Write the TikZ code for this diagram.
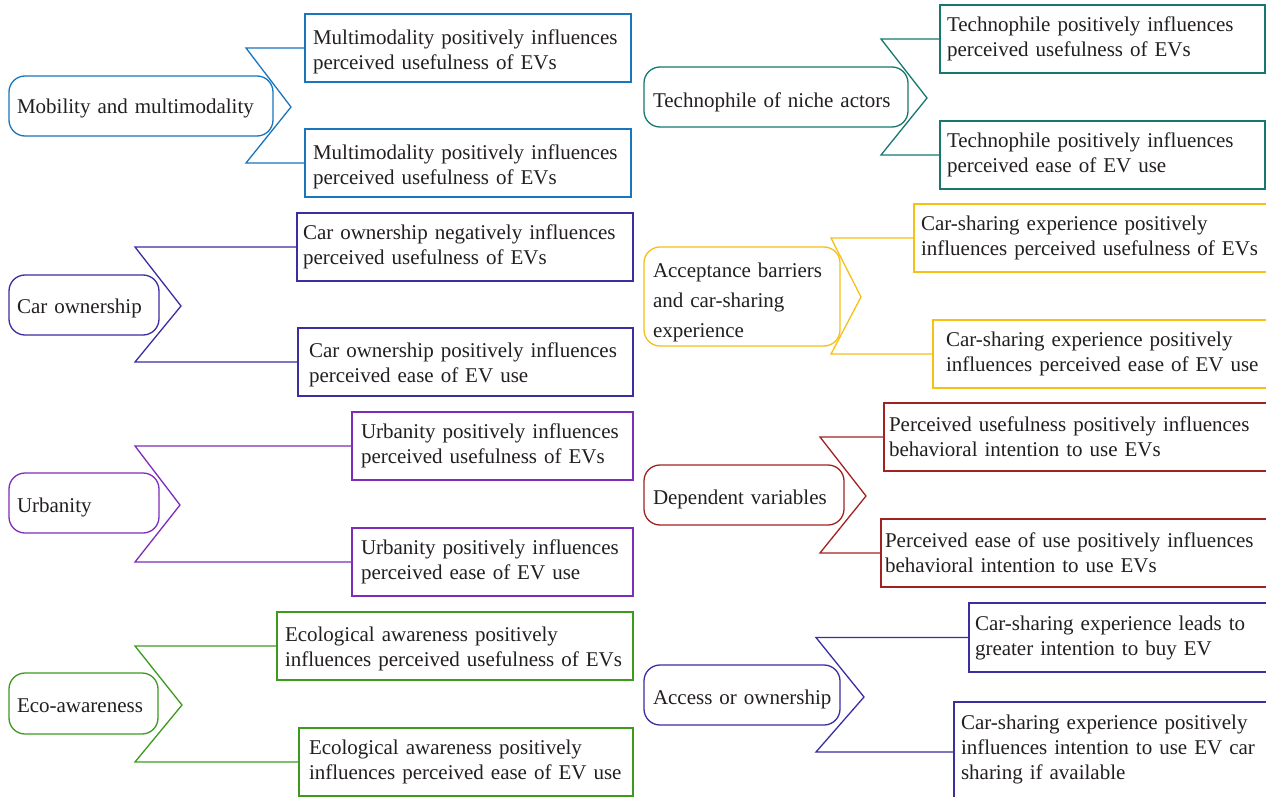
\documentclass[tikz,border=0pt]{standalone}
\usepackage{fontspec}
\setmainfont{Liberation Serif}

\definecolor{ink}{RGB}{35,31,32}
\definecolor{cblue}{RGB}{26,118,188}
\definecolor{cteal}{RGB}{24,120,112}
\definecolor{cindigo}{RGB}{58,46,160}
\definecolor{cpurple}{RGB}{125,45,185}
\definecolor{cyellow}{RGB}{247,192,20}
\definecolor{cred}{RGB}{160,35,35}
\definecolor{cgreen}{RGB}{60,155,30}

\tikzset{
  every node/.style={font=\fontsize{21}{25}\selectfont, text=ink},
  gbox/.style={draw=#1, line width=1.3pt, rounded corners=16pt, align=left, outer sep=0pt},
  tbox/.style={draw=#1, line width=1.3pt, align=left, outer sep=0pt},
  chev/.style={draw=#1, line width=1.3pt, line join=miter},
}

% invisible rules that set the height of a first line / depth of a last line
\newcommand\topline[1]{\rule{0pt}{#1pt}}
\newcommand\lastline[1]{\rule[-#1pt]{0pt}{0pt}}

% #1 style, #2 name, #3/#4 top-left corner, #5/#6 bottom-right corner, #7 left padding, #8 text
\newcommand\putbox[8]{%
  \pgfmathsetmacro\bw{#5-#3}%
  \pgfmathsetmacro\bh{#6-#4}%
  \pgfmathsetmacro\tw{#5-#3-2*#7}%
  \node[#1, anchor=north west, minimum width=\bw pt, minimum height=\bh pt,
        inner xsep=#7pt, text width=\tw pt] (#2) at (#3,#4) {#8};%
}

\begin{document}
\begin{tikzpicture}[x=1pt, y=-1pt]
\useasboundingbox (0,0) rectangle (1266,797);
\fill[white] (0,0) rectangle (1266,797);
\clip (0,0) rectangle (1266,797);

% ---------- Mobility and multimodality ----------
\putbox{gbox=cblue}{m1}{9}{76}{273}{136}{8}{\topline{20.5}\mbox{Mobility and multimodality}}
\putbox{tbox=cblue}{a1}{305}{14}{631}{82}{8}{\topline{22.5}Multimodality positively influences\\perceived usefulness of EVs}
\putbox{tbox=cblue}{b1}{305}{129}{631}{197}{8}{\topline{22.5}Multimodality positively influences\\perceived usefulness of EVs}
\coordinate (c1) at (246,0);
\coordinate (t1) at (291,107);
\draw[chev=cblue] (a1.west) -- (a1.west -| c1) -- (t1) -- (b1.west -| c1) -- (b1.west);

% ---------- Car ownership ----------
\putbox{gbox=cindigo}{m2}{9}{275}{159}{335}{8}{\topline{20.5}\mbox{Car ownership}}
\putbox{tbox=cindigo}{a2}{297}{213}{633}{281}{6}{Car ownership negatively influences\\perceived usefulness of EVs}
\putbox{tbox=cindigo}{b2}{298}{328}{633}{396}{11}{\topline{20.5}Car ownership positively influences\\perceived ease of EV use}
\coordinate (c2) at (135,0);
\coordinate (t2) at (181,306);
\draw[chev=cindigo] (a2.west) -- (a2.west -| c2) -- (t2) -- (b2.west -| c2) -- (b2.west);

% ---------- Urbanity ----------
\putbox{gbox=cpurple}{m3}{9}{473}{159}{533}{8}{\topline{24.5}Urbanity}
\putbox{tbox=cpurple}{a3}{352}{412}{633}{480}{9}{Urbanity positively influences\\perceived usefulness of EVs}
\putbox{tbox=cpurple}{b3}{352}{528}{633}{596}{9}{Urbanity positively influences\\perceived ease of EV use}
\coordinate (c3) at (135,0);
\coordinate (t3) at (180,505);
\draw[chev=cpurple] (a3.west) -- (a3.west -| c3) -- (t3) -- (b3.west -| c3) -- (b3.west);

% ---------- Eco-awareness ----------
\putbox{gbox=cgreen}{m4}{9}{673}{158}{734}{8}{\topline{18.5}\mbox{Eco-awareness}}
\putbox{tbox=cgreen}{a4}{277}{612}{633}{680}{8}{\topline{20.5}Ecological awareness positively\\influences perceived usefulness of EVs}
\putbox{tbox=cgreen}{b4}{299}{728}{633}{796}{10}{Ecological awareness positively\\influences perceived ease of EV use}
\coordinate (c4) at (135,0);
\coordinate (t4) at (182,705);
\draw[chev=cgreen] (a4.west) -- (a4.west -| c4) -- (t4) -- (b4.west -| c4) -- (b4.west);

% ---------- Technophile of niche actors ----------
\putbox{gbox=cteal}{m5}{644}{67}{908}{127}{9}{\topline{24.5}\mbox{Technophile of niche actors}}
\putbox{tbox=cteal}{a5}{940}{5}{1265}{73}{7}{Technophile positively influences\\perceived usefulness of EVs}
\putbox{tbox=cteal}{b5}{940}{121}{1265}{189}{7}{Technophile positively influences\\perceived ease of EV use}
\coordinate (c5) at (881,0);
\coordinate (t5) at (927,98);
\draw[chev=cteal] (a5.west) -- (a5.west -| c5) -- (t5) -- (b5.west -| c5) -- (b5.west);

% ---------- Acceptance barriers ----------
\putbox{gbox=cyellow, font=\fontsize{21}{30}\selectfont}{m6}{644}{247}{840}{346}{9}{\topline{26.5}Acceptance barriers\\and car-sharing\\experience}
\putbox{tbox=cyellow}{a6}{914}{204}{1285}{272}{7}{Car-sharing experience positively\\influences perceived usefulness of EVs}
\putbox{tbox=cyellow}{b6}{933}{320}{1285}{388}{13}{Car-sharing experience positively\\influences perceived ease of EV use}
\coordinate (c6) at (831,0);
\coordinate (t6) at (861,297);
\draw[chev=cyellow] (a6.west) -- (a6.west -| c6) -- (t6) -- (b6.west -| c6) -- (b6.west);

% ---------- Dependent variables ----------
\putbox{gbox=cred}{m7}{644}{465}{844}{525}{9}{\topline{22.5}\mbox{Dependent variables}}
\putbox{tbox=cred}{a7}{884}{403}{1285}{471}{5}{Perceived usefulness positively influences\\behavioral intention to use EVs}
\putbox{tbox=cred}{b7}{881}{519}{1285}{587}{4}{Perceived ease of use positively influences\\behavioral intention to use EVs}
\coordinate (c7) at (820,0);
\coordinate (t7) at (866,496);
\draw[chev=cred] (a7.west) -- (a7.west -| c7) -- (t7) -- (b7.west -| c7) -- (b7.west);

% ---------- Access or ownership ----------
\putbox{gbox=cindigo}{m8}{644}{665}{840}{725}{9}{\topline{22.5}\mbox{Access or ownership}}
\putbox{tbox=cindigo}{a8}{969}{603}{1285}{672}{6}{Car-sharing experience leads to\\greater intention to buy EV}
\putbox{tbox=cindigo}{b8}{954}{702}{1285}{802}{7}{Car-sharing experience positively\\influences intention to use EV car\\sharing if available\lastline{10.5}}
\coordinate (c8) at (816,0);
\coordinate (t8) at (864,697);
\draw[chev=cindigo] (a8.west) -- (a8.west -| c8) -- (t8) -- (b8.west -| c8) -- (b8.west);
\end{tikzpicture}
\end{document}
